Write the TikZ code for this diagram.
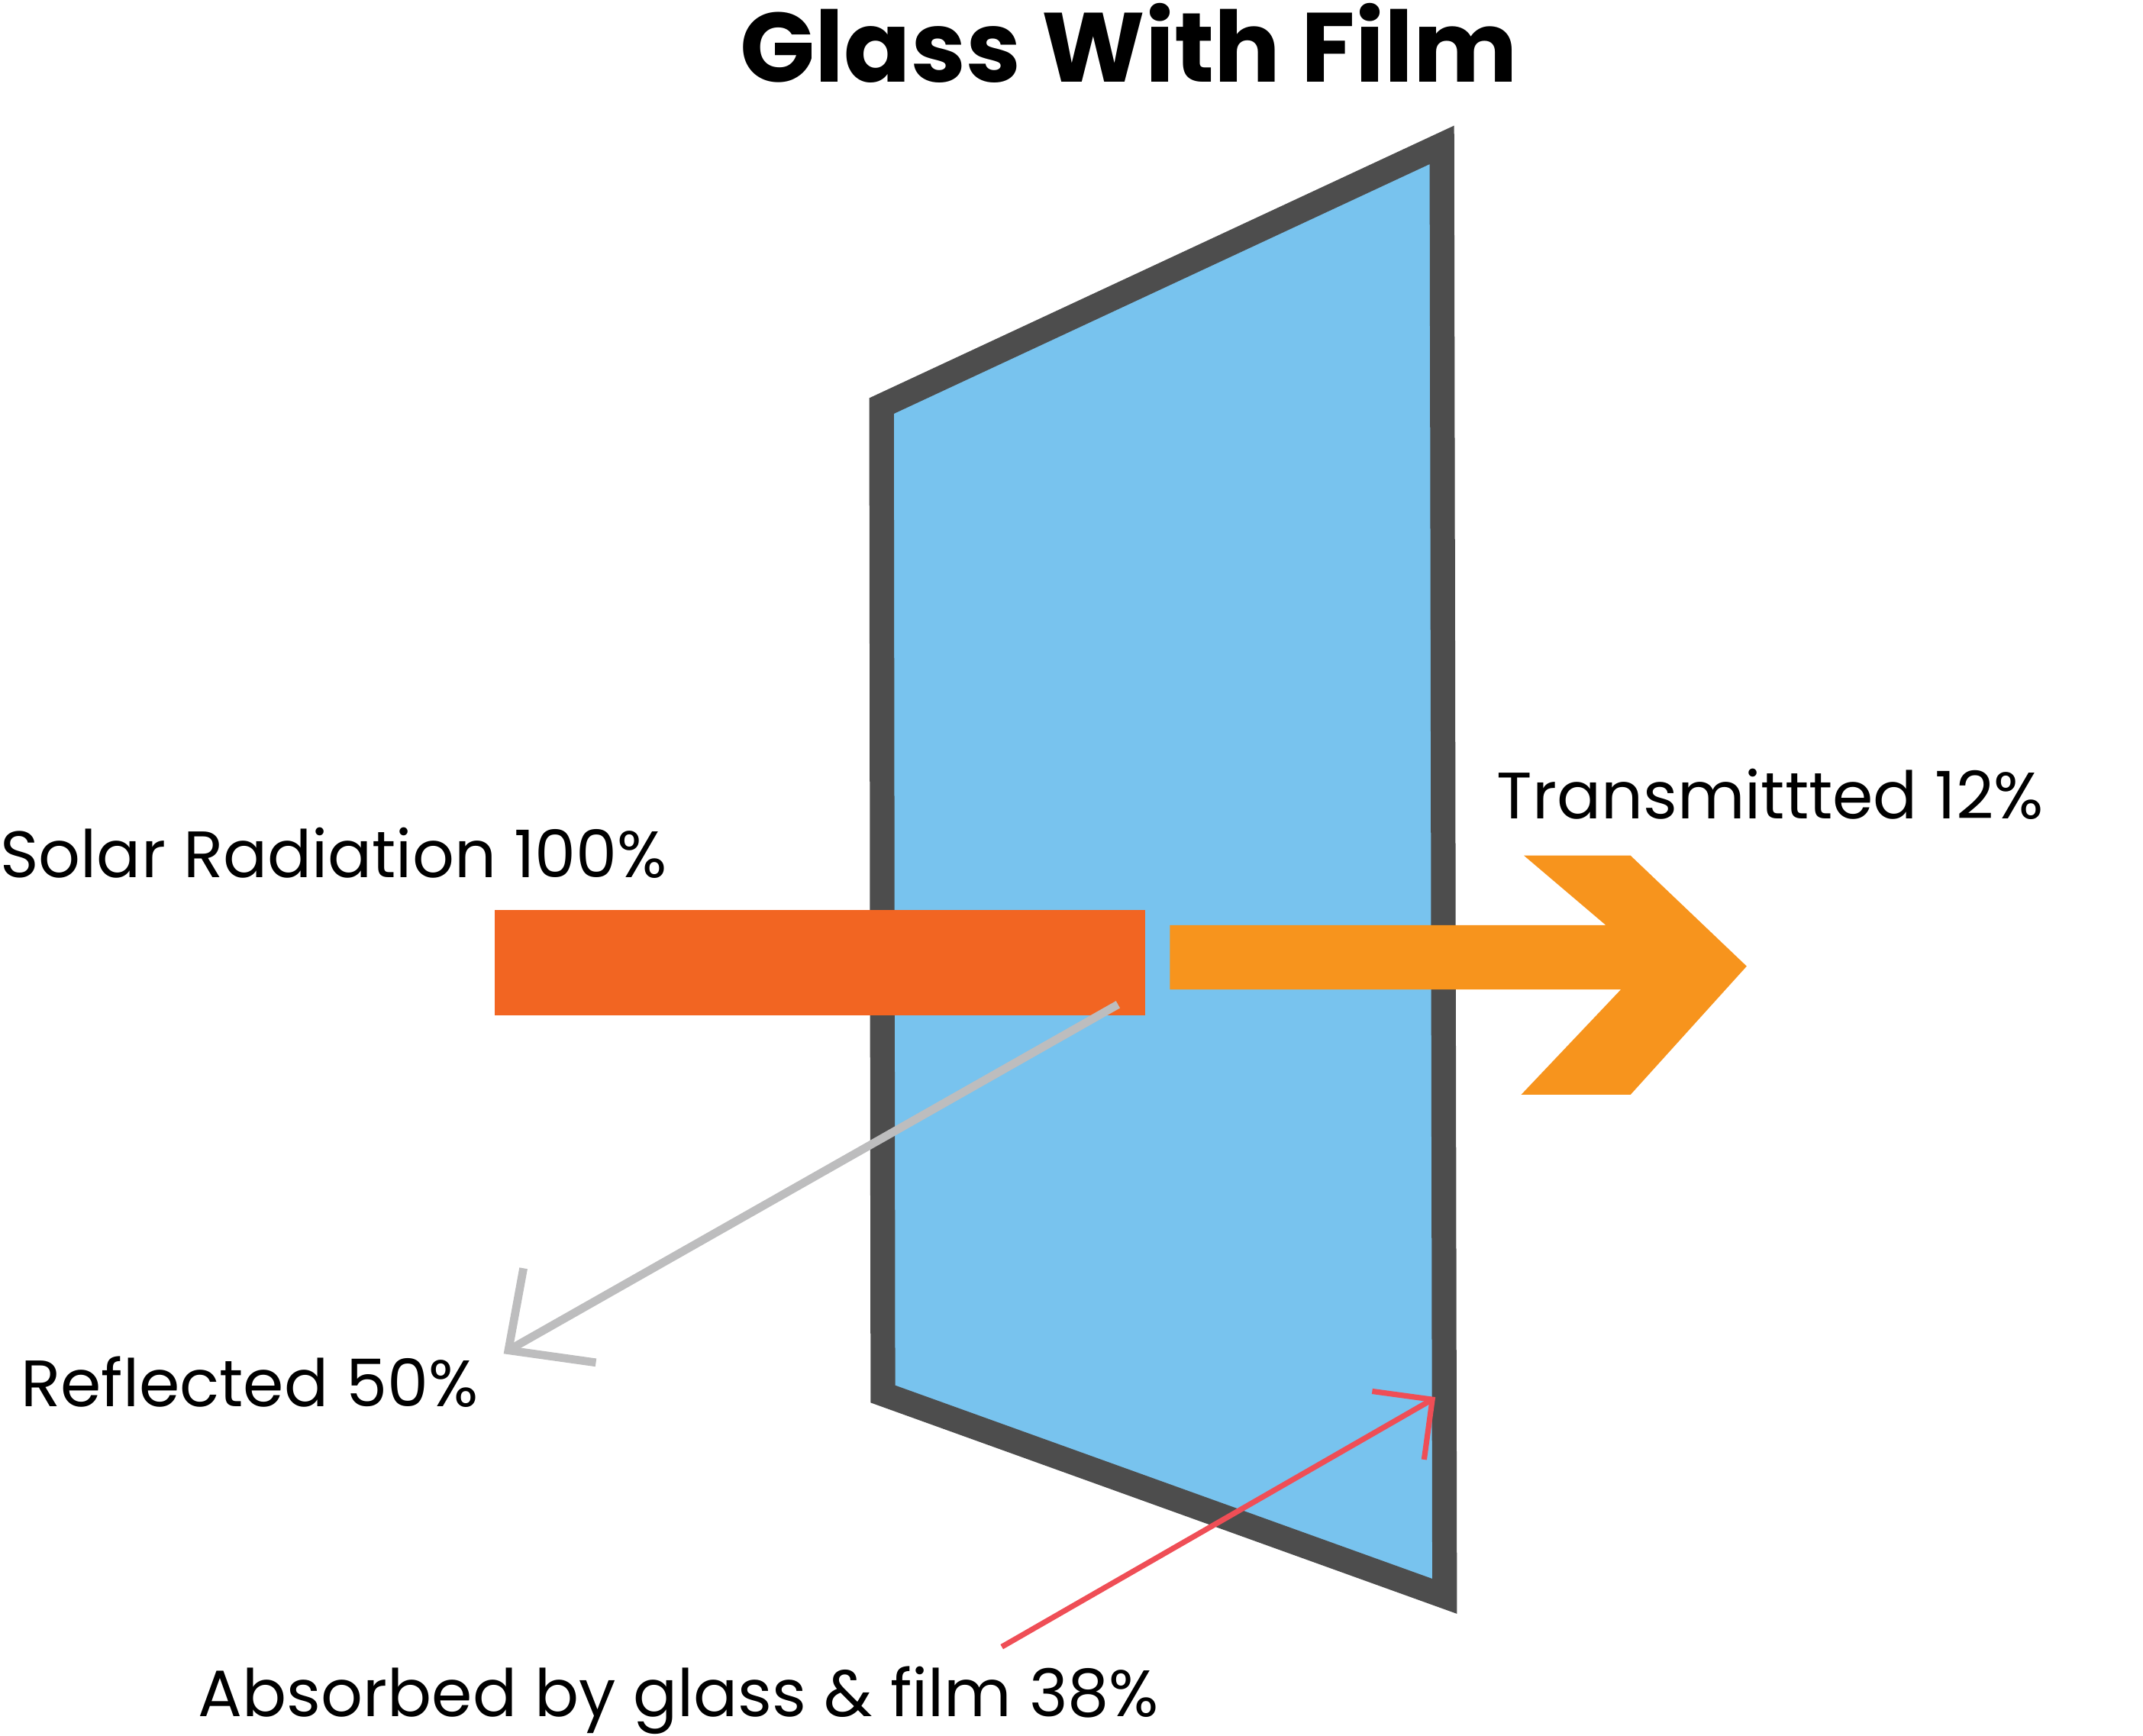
\documentclass[tikz,border=0pt]{standalone}
\usepackage{fontspec}
\setmainfont{Poppins}
\definecolor{glassblue}{HTML}{78C3EE}
\definecolor{frame}{HTML}{4D4D4D}
\definecolor{solar}{HTML}{F26522}
\definecolor{trans}{HTML}{F7941D}
\definecolor{refl}{HTML}{BDBDBE}
\definecolor{absb}{HTML}{EF4E56}
\begin{document}
\begin{tikzpicture}[x=1pt,y=-1pt,
  lbl/.style={anchor=base west,inner sep=0,font=\fontsize{48}{56}\selectfont},
  ttl/.style={inner sep=0,font=\bfseries\fontsize{72}{80}\selectfont}]
\useasboundingbox (0,0) rectangle (1568,1270);
\draw[frame,line width=18pt,line join=miter,fill=glassblue] (645,297) -- (1055,106) -- (1057,1168) -- (646,1020) -- cycle;
\fill[solar] (362,666) rectangle (838,743);
\fill[trans] (856,677) -- (1175,677) -- (1115,626) -- (1193,626) -- (1278,707) -- (1193,801) -- (1113,801) -- (1186,724) -- (856,724) -- cycle;
\coordinate (rs) at (818,735); \coordinate (re) at (372,988);
\coordinate (r1) at (383,928); \coordinate (r2) at (436,997);
\draw[refl,line width=6pt] (rs) -- (re);
\draw[refl,line width=6pt] (r1) -- (re) -- (r2);
\coordinate (as) at (733,1205); \coordinate (ae) at (1048,1024);
\coordinate (a1) at (1004,1018); \coordinate (a2) at (1042,1068);
\draw[absb,line width=4pt] (as) -- (ae);
\draw[absb,line width=4pt] (a1) -- (ae) -- (a2);
\node[ttl,anchor=base] (title) at (826,60) {Glass With Film};
\node[lbl] (solarl) at (0,642) {Solar Radiation 100\%};
\node[lbl] (transl) at (1095,599) {Transmittted 12\%};
\node[lbl] (refll) at (15,1029) {Reflected 50\%};
\node[lbl] (absl) at (145,1256) {Absorbed by glass \& film 38\%};
\end{tikzpicture}
\end{document}
